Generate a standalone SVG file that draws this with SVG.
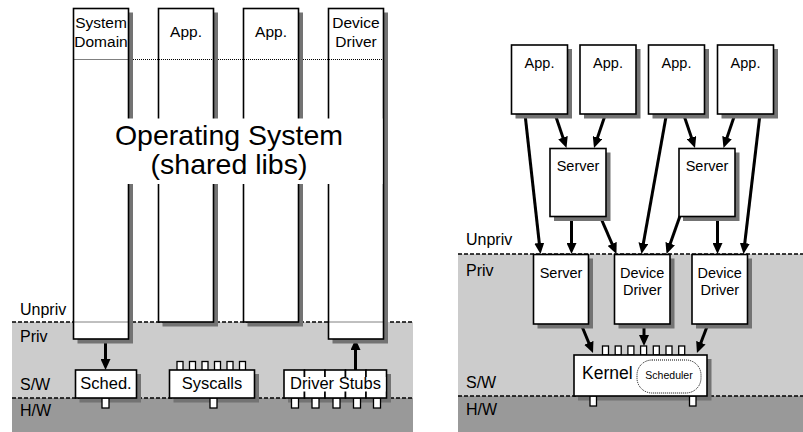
<svg xmlns="http://www.w3.org/2000/svg" width="803" height="432" viewBox="0 0 803 432">
<style>
text{font-family:"Liberation Sans",Arial,Helvetica,sans-serif;fill:#000}
.box{fill:#fff;stroke:#000;stroke-width:1.6}
.tab{fill:#fff;stroke:#000;stroke-width:1.3}
.shadow{fill:#737373;stroke:none}
.lg{fill:#ccc}
.dg{fill:#999}
.dash{stroke:#000;stroke-width:1.3;stroke-dasharray:4 2;fill:none}
.dot{stroke:#000;stroke-width:1;stroke-dasharray:1 1;fill:none}
.arr{stroke:#000;stroke-width:3;fill:none;marker-end:url(#ah)}
.lbl{font-size:16px}
.col{font-size:15.5px;text-anchor:middle}
.nl{font-size:14.5px;text-anchor:middle}
.big{font-size:28.5px;text-anchor:middle}
</style>
<defs>
<marker id="ah" viewBox="0 0 11 10" refX="4" refY="5" markerWidth="11" markerHeight="10" orient="auto" markerUnits="userSpaceOnUse">
<path d="M0,0 L11,5 L0,10 z" fill="#000"/>
</marker>
</defs>

<g id="bg-left">
<rect class="lg" x="12" y="322" width="401" height="76"/>
<rect class="dg" x="12" y="398" width="401" height="34"/>
<line class="dash" x1="12" y1="322" x2="413" y2="322"/>
<line class="dash" x1="12" y1="398" x2="413" y2="398"/>
<text class="lbl" x="20" y="315">Unpriv</text>
<text class="lbl" x="20" y="342">Priv</text>
<text class="lbl" x="20" y="390">S/W</text>
<text class="lbl" x="20" y="416">H/W</text>
</g>
<g id="bg-right">
<rect class="lg" x="458" y="254" width="345" height="142"/>
<rect class="dg" x="458" y="396" width="345" height="36"/>
<line class="dash" x1="458" y1="254" x2="803" y2="254"/>
<line class="dash" x1="458" y1="396" x2="803" y2="396"/>
<text class="lbl" x="466" y="245">Unpriv</text>
<text class="lbl" x="466" y="276">Priv</text>
<text class="lbl" x="466" y="388">S/W</text>
<text class="lbl" x="466" y="415">H/W</text>
</g>

<g id="connectors">
<line class="arr" x1="105.5" y1="339" x2="105.5" y2="363"/>
<line class="arr" x1="355.5" y1="370" x2="355.5" y2="346"/>
<line class="arr" x1="525" y1="114" x2="539.73" y2="247.04"/>
<line class="arr" x1="555" y1="114" x2="564.26" y2="141.37"/>
<line class="arr" x1="605.5" y1="114" x2="596.24" y2="141.37"/>
<line class="arr" x1="666.5" y1="114" x2="642.73" y2="247.1"/>
<line class="arr" x1="683.5" y1="114" x2="692.76" y2="141.37"/>
<line class="arr" x1="735" y1="114" x2="725.74" y2="141.37"/>
<line class="arr" x1="760" y1="114" x2="744.32" y2="247.05"/>
<line class="arr" x1="571.5" y1="216" x2="571.5" y2="247"/>
<line class="arr" x1="600" y1="216" x2="613.68" y2="247.59"/>
<line class="arr" x1="680" y1="216" x2="668.87" y2="247.41"/>
<line class="arr" x1="717.5" y1="216" x2="717.5" y2="247"/>
<line class="arr" x1="581" y1="324" x2="590.33" y2="346.53"/>
<line class="arr" x1="644" y1="324" x2="644" y2="339"/>
<line class="arr" x1="708" y1="324" x2="699.45" y2="346.46"/>
</g>

<g id="col-system">
<path class="shadow" d="M128.5,12.5 h4.5 V343.5 H77.5 v-4.5 H128.5 z"/>
<rect class="box" x="73.5" y="8.5" width="55" height="330.5"/>
<text class="col" x="101" y="28">System</text>
<text class="col" x="101" y="46.5">Domain</text>
</g>
<g id="col-app1">
<path class="shadow" d="M213.5,12.5 h4.5 V326.5 H162.5 v-4.5 H213.5 z"/>
<rect class="box" x="158.5" y="8.5" width="55" height="313.5"/>
<text class="col" x="186" y="37">App.</text>
</g>
<g id="col-app2">
<path class="shadow" d="M298.5,12.5 h4.5 V326.5 H247.5 v-4.5 H298.5 z"/>
<rect class="box" x="243.5" y="8.5" width="55" height="313.5"/>
<text class="col" x="271" y="37">App.</text>
</g>
<g id="col-driver">
<path class="shadow" d="M383.5,12.5 h4.5 V343.5 H332.5 v-4.5 H383.5 z"/>
<rect class="box" x="328.5" y="8.5" width="55" height="330.5"/>
<text class="col" x="356" y="28">Device</text>
<text class="col" x="356" y="46.5">Driver</text>
</g>
<g id="os-dotted">
<line class="dot" x1="74.5" y1="59.5" x2="128" y2="59.5"/>
<line class="dot" x1="133" y1="59.5" x2="213" y2="59.5"/>
<line class="dot" x1="218" y1="59.5" x2="298" y2="59.5"/>
<line class="dot" x1="303" y1="59.5" x2="382.5" y2="59.5"/>
<line class="dot" x1="74.5" y1="322" x2="128" y2="322"/>
<line class="dot" x1="329.5" y1="322" x2="382.5" y2="322"/>
</g>
<g id="os-label">
<rect x="75" y="118.5" width="307.5" height="65.5" fill="#fff"/>
<text class="big" x="229" y="144.5">Operating System</text>
<text class="big" x="229" y="174">(shared libs)</text>
</g>

<g id="sched">
<path class="shadow" d="M136.5,374 h4.5 V402.5 H79.5 v-4.5 H136.5 z"/>
<rect class="tab" x="102" y="398" width="7" height="10"/>
<rect class="box" x="75.5" y="370" width="61" height="28"/>
<text x="106" y="389" text-anchor="middle" font-size="16.5">Sched.</text>
</g>
<g id="syscalls">
<rect class="tab" x="177" y="361.5" width="6" height="9"/>
<rect class="tab" x="189.5" y="361.5" width="6" height="9"/>
<rect class="tab" x="202" y="361.5" width="6" height="9"/>
<rect class="tab" x="214.5" y="361.5" width="6" height="9"/>
<rect class="tab" x="227" y="361.5" width="6" height="9"/>
<rect class="tab" x="239.5" y="361.5" width="6" height="9"/>
<path class="shadow" d="M254.5,374 h4.5 V402.5 H173.5 v-4.5 H254.5 z"/>
<rect class="tab" x="210" y="398" width="7" height="10"/>
<rect class="box" x="169.5" y="370" width="85" height="28"/>
<text x="212" y="389" text-anchor="middle" font-size="16.5">Syscalls</text>
</g>
<g id="driver-stubs">
<path class="shadow" d="M386.5,374 h4.5 V402.5 H288 v-4.5 H386.5 z"/>
<rect class="tab" x="291.5" y="398" width="7" height="10"/>
<rect class="tab" x="312" y="398" width="7" height="10"/>
<rect class="tab" x="333" y="398" width="7" height="10"/>
<rect class="tab" x="353.5" y="398" width="7" height="10"/>
<rect class="tab" x="373.5" y="398" width="7" height="10"/>
<rect class="box" x="284" y="370" width="20.5" height="28"/>
<rect class="box" x="304.5" y="370" width="20.5" height="28"/>
<rect class="box" x="325" y="370" width="20.5" height="28"/>
<rect class="box" x="345.5" y="370" width="20.5" height="28"/>
<rect class="box" x="366" y="370" width="20.5" height="28"/>
<rect x="285" y="377" width="100.5" height="14.5" fill="#fff"/>
<text x="335.5" y="389" text-anchor="middle" font-size="16.5">Driver Stubs</text>
</g>

<g id="app-r1">
<path class="shadow" d="M567.5,49 h4.5 V118.5 H515.5 v-4.5 H567.5 z"/>
<rect class="box" x="511.5" y="45" width="56" height="69"/>
<text class="nl" x="539.5" y="68">App.</text>
</g>
<g id="app-r2">
<path class="shadow" d="M636,49 h4.5 V118.5 H584 v-4.5 H636 z"/>
<rect class="box" x="580" y="45" width="56" height="69"/>
<text class="nl" x="608" y="68">App.</text>
</g>
<g id="app-r3">
<path class="shadow" d="M704.5,49 h4.5 V118.5 H652.5 v-4.5 H704.5 z"/>
<rect class="box" x="648.5" y="45" width="56" height="69"/>
<text class="nl" x="676.5" y="68">App.</text>
</g>
<g id="app-r4">
<path class="shadow" d="M773.5,49 h4.5 V118.5 H721.5 v-4.5 H773.5 z"/>
<rect class="box" x="717.5" y="45" width="56" height="69"/>
<text class="nl" x="745.5" y="68">App.</text>
</g>
<g id="server-u1">
<path class="shadow" d="M606,152.5 h4.5 V221 H554 v-4.5 H606 z"/>
<rect class="box" x="550" y="148.5" width="56" height="68"/>
<text class="nl" x="578" y="171">Server</text>
</g>
<g id="server-u2">
<path class="shadow" d="M735,152.5 h4.5 V221 H683 v-4.5 H735 z"/>
<rect class="box" x="679" y="148.5" width="56" height="68"/>
<text class="nl" x="707" y="171">Server</text>
</g>
<g id="server-l">
<path class="shadow" d="M588.5,258.5 h4.5 V328.5 H537.5 v-4.5 H588.5 z"/>
<rect class="box" x="533.5" y="254.5" width="55" height="69.5"/>
<text class="nl" x="561" y="278">Server</text>
</g>
<g id="driver-l1">
<path class="shadow" d="M670,258.5 h4.5 V328.5 H618.5 v-4.5 H670 z"/>
<rect class="box" x="614.5" y="254.5" width="55.5" height="69.5"/>
<text class="nl" x="642.25" y="278">Device</text>
<text class="nl" x="642.25" y="295">Driver</text>
</g>
<g id="driver-l2">
<path class="shadow" d="M747.5,258.5 h4.5 V328.5 H696 v-4.5 H747.5 z"/>
<rect class="box" x="692" y="254.5" width="55.5" height="69.5"/>
<text class="nl" x="719.75" y="278">Device</text>
<text class="nl" x="719.75" y="295">Driver</text>
</g>
<g id="kernel">
<rect class="tab" x="602.5" y="346" width="6" height="9"/>
<rect class="tab" x="615.2" y="346" width="6" height="9"/>
<rect class="tab" x="627.9" y="346" width="6" height="9"/>
<rect class="tab" x="640.6" y="346" width="6" height="9"/>
<rect class="tab" x="653.3" y="346" width="6" height="9"/>
<rect class="tab" x="666" y="346" width="6" height="9"/>
<rect class="tab" x="678.7" y="346" width="6" height="9"/>
<path class="shadow" d="M707,359 h4.5 V400.5 H578 v-4.5 H707 z"/>
<rect class="tab" x="590" y="396" width="6.5" height="10"/>
<rect class="tab" x="689.5" y="396" width="6.5" height="10"/>
<rect class="box" x="574" y="355" width="133" height="41"/>
<text x="582" y="378.5" font-size="17.5">Kernel</text>
<rect x="637" y="360" width="64" height="33" rx="15" ry="15" class="dot"/>
<text x="669" y="379" font-size="10.5" text-anchor="middle">Scheduler</text>
</g>
</svg>
